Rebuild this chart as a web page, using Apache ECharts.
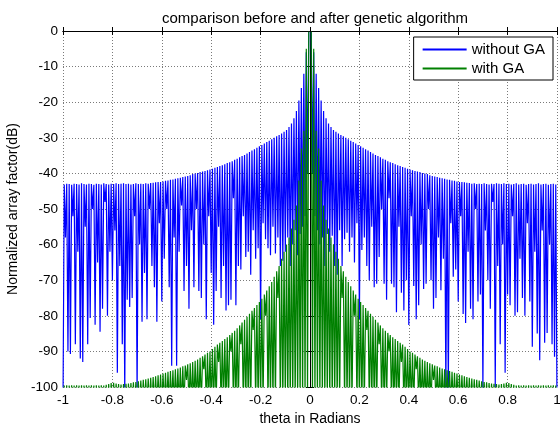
<!DOCTYPE html>
<html>
<head>
<meta charset="utf-8">
<script src="https://cdn.jsdelivr.net/npm/echarts@6/dist/echarts.min.js"></script>
<style>
html,body{margin:0;padding:0;background:#fff;}
#chart{width:560px;height:428px;}
</style>
</head>
<body>
<div id="chart"></div>
<script>
// Sample grid: theta = -1 : 0.005 : 1 (401 samples; the sample at theta = 0 is undefined / NaN)
const thetaStart = -1;
const thetaStep = 0.005;
const xTicks = [-1, -0.8, -0.6, -0.4, -0.2, 0, 0.2, 0.4, 0.6, 0.8, 1];
const yTicks = [0, -10, -20, -30, -40, -50, -60, -70, -80, -90, -100];
const seriesNames = ['without GA', 'with GA'];

// "without GA" : lobe tops (odd samples) and dips (even samples), left half then right half
const withoutGA_leftTops = [
 -43.1,-42.9,-43,-43.2,-42.9,-43,-43.1,-42.8,-43,-43.1,
 -42.9,-43,-43.2,-42.9,-43,-43.1,-42.8,-43,-43.1,-42.9,
 -43,-42.8,-43,-42.9,-42.8,-43,-42.9,-43.1,-43,-42.8,
 -43,-42.9,-43,-42.8,-42.9,-42.7,-42.6,-42.5,-42.4,-42.4,
 -42.3,-42.1,-42,-41.8,-41.7,-41.5,-41.35,-41.2,-41,-40.9,
 -40.7,-40.5,-40.2,-40,-39.9,-39.6,-39.5,-39.3,-39.1,-38.9,
 -38.7,-38.4,-38.2,-37.9,-37.7,-37.4,-37.1,-36.9,-36.6,-36.2,
 -35.9,-35.5,-35.1,-34.8,-34.4,-34,-33.6,-33.2,-32.8,-32.4,
 -32,-31.6,-31.2,-30.8,-30.4,-30,-29.6,-29.2,-28.8,-28.3,
 -27.8,-27,-26,-24.5,-22.5,-19.5,-16,-12,-6,-0.3];
const withoutGA_leftDips = [
 -105,-58,-90,-90.7,-52,-88,-62,-92,-93,-55,
 -88,-80.6,-50,-82.5,-65,-84.5,-78,-48,-80,-62,
 -70,-56,-96,-66,-88,-102,-75.5,-77.5,-75,-52,
 -102,-60,-81.7,-68,-81,-50,-66,-72,-81.7,-54,
 -76,-64,-50,-72,-94,-58,-94,-62,-49,-73,
 -66,-78,-56,-72,-50,-73,-75,-60,-81,-52,
 -68,-82.5,-73,-55,-75,-66,-78.5,-77,-75.5,-47,
 -77,-66,-67,-52,-63.5,-62,-68.5,-56,-64,-61,
 -81,-54,-58.5,-61,-63,-55,-62.5,-58,-66,-64.5,
 -62,-58,-66,-60,-56,-63,-57,-55,-52,-40];
const withoutGA_rightTops = [
 -0.3,-6,-12,-16,-19.5,-22.5,-24.5,-26,-27,-27.8,
 -28.3,-28.8,-29.2,-29.6,-30,-30.4,-30.8,-31.2,-31.6,-32,
 -32.4,-32.8,-33.2,-33.6,-34,-34.4,-34.8,-35.1,-35.5,-35.9,
 -36.2,-36.6,-36.9,-37.1,-37.4,-37.7,-37.9,-38.2,-38.4,-38.7,
 -38.9,-39.1,-39.3,-39.5,-39.6,-39.9,-40,-40.2,-40.5,-40.7,
 -40.9,-41,-41.2,-41.35,-41.5,-41.7,-41.8,-42,-42.1,-42.3,
 -42.4,-42.4,-42.5,-42.6,-42.7,-42.9,-42.8,-43,-42.9,-43,
 -42.8,-43,-43.1,-42.9,-43,-42.8,-42.9,-43,-42.8,-43,
 -42.9,-43.1,-43,-42.8,-43.1,-43,-42.9,-43.2,-43,-42.9,
 -43.1,-43,-42.8,-43.1,-43,-42.9,-43.2,-43,-42.9,-43.1];
const withoutGA_rightDips = [
 -40,-52,-56,-60,-58,-66,-57,-62,-57.5,-66,
 -68.5,-56,-66,-58.5,-56.7,-62,-58,-65,-54,-81,
 -61.5,-58,-66,-70,-55,-72,-71,-63.5,-50,-71,
 -75.5,-47,-71,-72,-79,-55,-73.5,-78.5,-70,-82.6,
 -52,-71.6,-81,-77,-60,-72.5,-71,-50,-70,-78,
 -75,-58,-72.8,-64,-101,-101,-54,-69,-67,-76,
 -52,-79.5,-82,-62,-78,-81,-50,-76,-74,-101,
 -56,-70,-78,-48,-100,-66,-88,-60,-96,-74,
 -77,-52,-80,-79,-64,-75,-80,-54,-76,-88.7,
 -62,-85,-92.5,-56,-87.6,-84.8,-60,-88,-91.5,-105];

// "with GA"
const withGA_leftTops = [
 -99.6,-99.5,-99.6,-99.5,-99.6,-99.5,-99.6,-99.5,-99.6,-99.5,
 -99.6,-99.5,-99.6,-99.5,-99.6,-99.5,-99.6,-99.4,-99.2,-98.9,
 -98.8,-99,-99.2,-99.3,-99.2,-99.1,-99,-98.9,-98.7,-98.6,
 -98.4,-98.2,-98,-97.8,-97.6,-97.4,-97.2,-97,-96.7,-96.5,
 -96.2,-96,-95.7,-95.5,-95.3,-95,-94.8,-94.5,-94.2,-94,
 -93.6,-93.3,-93,-92.6,-92.3,-91.8,-91.4,-90.9,-90.4,-90,
 -89.3,-88.7,-88.1,-87.6,-87.1,-86.5,-86,-85.4,-84.8,-84.2,
 -83.5,-82.7,-81.9,-81.1,-80.3,-79.4,-78.6,-77.8,-77,-76.1,
 -75.2,-74,-72.9,-71.7,-70.5,-69,-67.5,-66,-64,-62,
 -60,-58,-55.5,-53,-49,-42,-33,-28,-5,-0.2];
const withGA_leftDips = [
 -105,-105,-105,-105,-105,-105,-105,-105,-105,-105,
 -105,-105,-105,-105,-105,-105,-105,-105,-105,-105,
 -105,-105,-105,-105,-105,-105,-105,-105,-105,-105,
 -105,-105,-105,-105,-105,-105,-105,-105,-105,-105,
 -105,-105,-105,-105,-105,-105,-105,-105,-105,-105,
 -98,-105,-105,-105,-105,-105,-105,-95,-105,-105,
 -105,-105,-105,-93,-105,-105,-105,-105,-90,-105,
 -105,-105,-88,-105,-105,-105,-105,-84,-105,-105,
 -105,-105,-80,-105,-105,-105,-105,-75,-105,-105,
 -105,-105,-105,-105,-105,-105,-105,-105,-105,-105];
const withGA_rightTops = [
 -0.2,-5,-28,-33,-42,-49,-53,-55.5,-58,-60,
 -62,-64,-66,-67.5,-69,-70.5,-71.7,-72.9,-74,-75.2,
 -76.1,-77,-77.8,-78.6,-79.4,-80.3,-81.1,-81.9,-82.7,-83.5,
 -84.2,-84.8,-85.4,-86,-86.5,-87.1,-87.6,-88.1,-88.7,-89.3,
 -90,-90.4,-90.9,-91.4,-91.8,-92.3,-92.6,-93,-93.3,-93.6,
 -94,-94.2,-94.5,-94.8,-95,-95.3,-95.5,-95.7,-96,-96.2,
 -96.5,-96.7,-97,-97.2,-97.4,-97.6,-97.8,-98,-98.2,-98.4,
 -98.6,-98.7,-98.9,-99,-99.1,-99.2,-99.3,-99.2,-99,-98.8,
 -98.9,-99.2,-99.4,-99.6,-99.5,-99.6,-99.5,-99.6,-99.5,-99.6,
 -99.5,-99.6,-99.5,-99.6,-99.5,-99.6,-99.5,-99.6,-99.5,-99.6];
const withGA_rightDips = [
 -105,-105,-105,-105,-105,-105,-105,-105,-105,-105,
 -105,-105,-75,-105,-105,-105,-105,-80,-105,-105,
 -105,-105,-84,-105,-105,-105,-105,-88,-105,-105,
 -105,-90,-105,-105,-105,-105,-93,-105,-105,-105,
 -105,-105,-95,-105,-105,-105,-105,-105,-105,-98,
 -105,-105,-105,-105,-105,-105,-105,-105,-105,-105,
 -105,-105,-105,-105,-105,-105,-105,-105,-105,-105,
 -105,-105,-105,-105,-105,-105,-105,-105,-105,-105,
 -105,-105,-105,-105,-105,-105,-105,-105,-105,-105,
 -105,-105,-105,-105,-105,-105,-105,-105,-105,-105];

// Put samples in theta order: dip, top, dip, top ... | undefined at 0 | top, dip, top, dip ...
function assemble(leftTops, leftDips, rightTops, rightDips) {
  const vals = [];
  for (let k = 0; k < leftTops.length; k++) { vals.push(leftDips[k]); vals.push(leftTops[k]); }
  vals.push(null);
  for (let k = 0; k < rightTops.length; k++) { vals.push(rightTops[k]); vals.push(rightDips[k]); }
  return vals.map((v, i) => [thetaStart + i * thetaStep, v === null ? '-' : v]);
}
const withoutGA = assemble(withoutGA_leftTops, withoutGA_leftDips, withoutGA_rightTops, withoutGA_rightDips);
const withGA = assemble(withGA_leftTops, withGA_leftDips, withGA_rightTops, withGA_rightDips);

const FONT = 'Liberation Sans, Arial, sans-serif';
const chart = echarts.init(document.getElementById('chart'), null, {renderer: 'canvas'});
const fmt = v => { const r = Math.round(v * 10) / 10; return String(r === 0 ? 0 : r); };
const gridLine = {show: true, lineStyle: {color: '#7a7a7a', type: [1, 2], width: 1}};
chart.setOption({
  animation: false,
  backgroundColor: '#fff',
  title: {
    text: 'comparison before and after genetic algorithm',
    left: 310, top: 6, textAlign: 'center',
    textStyle: {fontFamily: FONT, fontSize: 15, fontWeight: 'normal', color: '#000'}
  },
  legend: {
    data: seriesNames, orient: 'vertical', right: 7, top: 37,
    icon: 'rect', itemWidth: 44, itemHeight: 2, itemGap: 4,
    padding: [5, 8, 4, 9], backgroundColor: '#fff', borderColor: '#000', borderWidth: 1, borderRadius: 0,
    textStyle: {fontFamily: FONT, fontSize: 15, color: '#000'}
  },
  grid: {left: 63, right: 3, top: 31, bottom: 41, containLabel: false, outerBoundsMode: 'none'},
  xAxis: [{
    type: 'value', min: xTicks[0], max: xTicks[xTicks.length - 1], interval: 0.2, position: 'bottom',
    name: 'theta in Radians', nameLocation: 'middle', nameGap: 20,
    nameTextStyle: {fontFamily: FONT, fontSize: 14, color: '#000'},
    axisLine: {lineStyle: {color: '#000', width: 1}},
    axisTick: {inside: true, length: 4, lineStyle: {color: '#000'}},
    axisLabel: {fontFamily: FONT, fontSize: 13.5, color: '#000', margin: 6, formatter: fmt},
    splitLine: gridLine
  }, {
    type: 'value', min: xTicks[0], max: xTicks[xTicks.length - 1], interval: 0.2, position: 'top',
    axisLine: {lineStyle: {color: '#000', width: 1}},
    axisTick: {inside: true, length: 4, lineStyle: {color: '#000'}},
    axisLabel: {show: false}, splitLine: {show: false}
  }],
  yAxis: [{
    type: 'value', min: yTicks[yTicks.length - 1], max: yTicks[0], interval: 10, position: 'left',
    name: 'Normalized array factor(dB)', nameLocation: 'middle', nameGap: 41, nameRotate: 90,
    nameTextStyle: {fontFamily: FONT, fontSize: 14, color: '#000'},
    axisLine: {lineStyle: {color: '#000', width: 1}},
    axisTick: {inside: true, length: 4, lineStyle: {color: '#000'}},
    axisLabel: {fontFamily: FONT, fontSize: 13.5, color: '#000', margin: 5},
    splitLine: gridLine
  }, {
    type: 'value', min: yTicks[yTicks.length - 1], max: yTicks[0], interval: 10, position: 'right',
    axisLine: {lineStyle: {color: '#000', width: 1}},
    axisTick: {inside: true, length: 4, lineStyle: {color: '#000'}},
    axisLabel: {show: false}, splitLine: {show: false}
  }],
  series: [{
    name: seriesNames[0], type: 'line', data: withoutGA, showSymbol: false, symbol: 'none',
    connectNulls: false, sampling: null, clip: true,
    lineStyle: {color: '#0000ff', width: 1.2}, itemStyle: {color: '#0000ff'}
  }, {
    name: seriesNames[1], type: 'line', data: withGA, showSymbol: false, symbol: 'none',
    connectNulls: false, sampling: null, clip: true,
    lineStyle: {color: '#008000', width: 1.2}, itemStyle: {color: '#008000'}
  }]
});
</script>
</body>
</html>
